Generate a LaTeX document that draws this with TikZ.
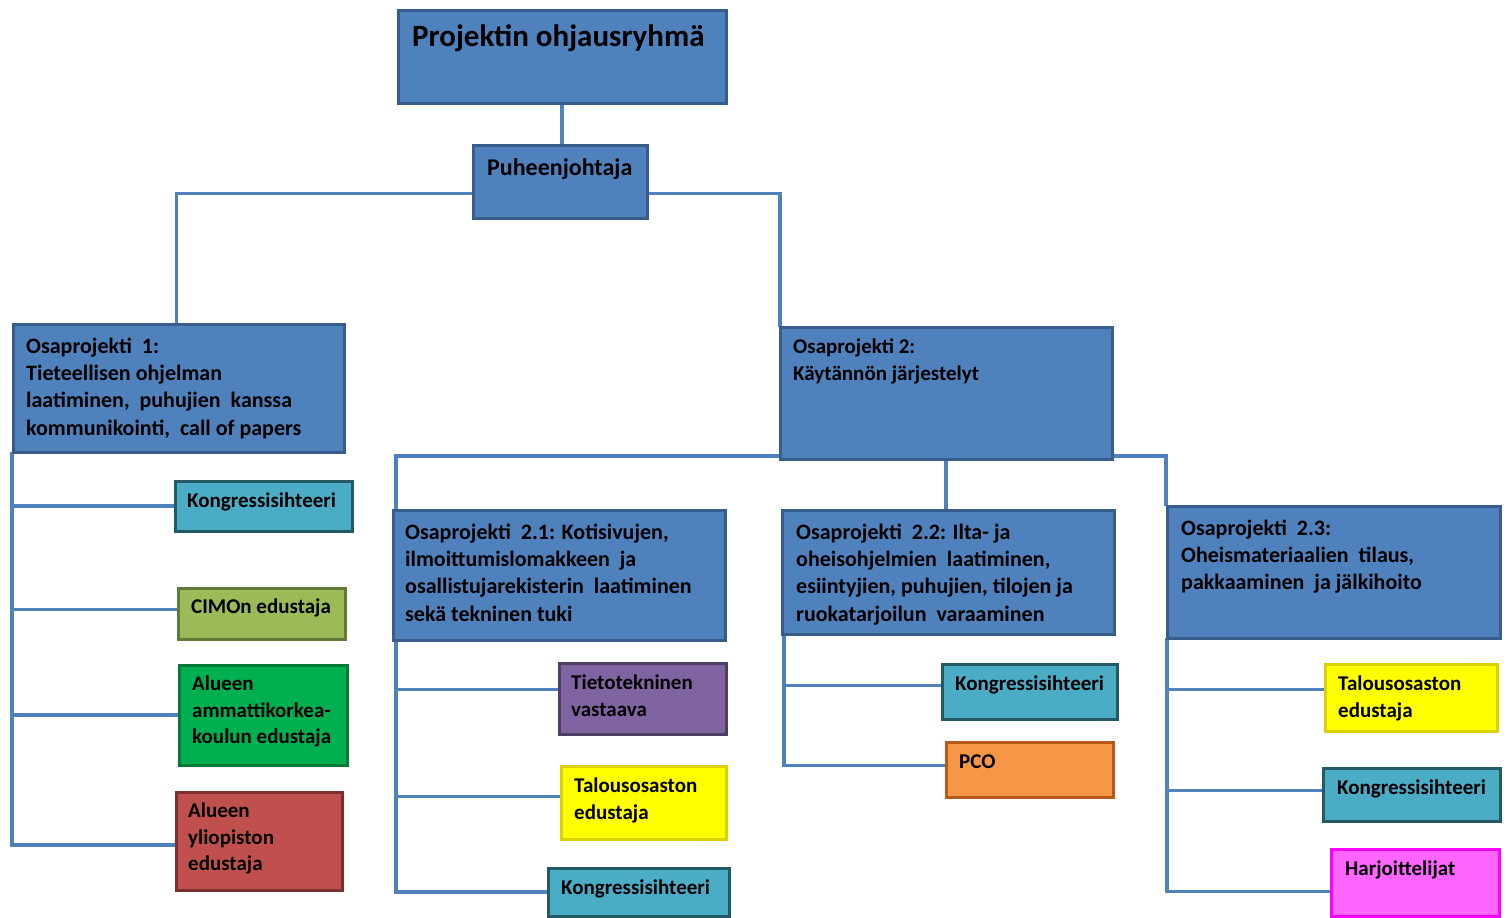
\documentclass[tikz,border=0pt]{standalone}
\usepackage{fontspec}
\setmainfont{Carlito}
\usetikzlibrary{positioning,backgrounds}

\definecolor{mainblue}{HTML}{4F81BD}
\definecolor{mainedge}{HTML}{385D8A}
\definecolor{tealfill}{HTML}{4BACC6}
\definecolor{tealedge}{HTML}{235A64}
\definecolor{olivefill}{HTML}{9BBB59}
\definecolor{oliveedge}{HTML}{637A36}
\definecolor{greenfill}{HTML}{00B050}
\definecolor{greenedge}{HTML}{007A37}
\definecolor{redfill}{HTML}{C0504D}
\definecolor{rededge}{HTML}{7F2F2D}
\definecolor{purplefill}{HTML}{8064A2}
\definecolor{purpleedge}{HTML}{4E3D64}
\definecolor{yellowfill}{HTML}{FFFF00}
\definecolor{yellowedge}{HTML}{DDD000}
\definecolor{orangefill}{HTML}{F79646}
\definecolor{orangeedge}{HTML}{B65A1A}
\definecolor{pinkfill}{HTML}{FF66FF}
\definecolor{pinkedge}{HTML}{FF00FF}

\begin{document}
\begin{tikzpicture}[x=1pt,y=-1pt,
    box/.style={rectangle,draw=mainedge,fill=mainblue,line width=3pt,
		anchor=north west,outer sep=0pt,inner sep=0pt},
    teal/.style={box,draw=tealedge,fill=tealfill},
    olive/.style={box,draw=oliveedge,fill=olivefill},
    green/.style={box,draw=greenedge,fill=greenfill},
    red/.style={box,draw=rededge,fill=redfill},
    purple/.style={box,draw=purpleedge,fill=purplefill},
    yellow/.style={box,draw=yellowedge,fill=yellowfill},
    orange/.style={box,draw=orangeedge,fill=orangefill},
    pink/.style={box,draw=pinkedge,fill=pinkfill},
% Text styles
    txt/.style={anchor=north west,inner sep=0pt,align=left,
		font=\fontsize{21}{26.5}\selectfont\bfseries},
    bigtxt/.style={txt,font=\fontsize{22}{27.3}\selectfont\bfseries},
    link/.style={draw=mainblue,line width=3.3pt}
    ]
\useasboundingbox (0,0) rectangle (1510,918);

\node [box,minimum width=328,minimum height=93] (group) at (398,10) {};
\node [box,minimum width=174,minimum height=73] (chair) at (473,145) {};
\node [box,minimum width=331,minimum height=128] (part1) at (13,324) {};
\node [box,minimum width=332,minimum height=132] (part2) at (780,327) {};
\node [box,minimum width=332,minimum height=130] (part21) at (393,510) {};
\node [box,minimum width=332,minimum height=124] (part22) at (782,510) {};
\node [box,minimum width=333,minimum height=132] (part23) at (1167,506) {};

\node [teal,minimum width=177,minimum height=50] (secr1) at (175,481) {};
\node [olive,minimum width=167,minimum height=51] (cimo) at (178,588) {};
\node [green,minimum width=168,minimum height=100] (amk) at (179,665) {};
\node [red,minimum width=166,minimum height=98] (univ) at (176,792) {};

\node [purple,minimum width=167,minimum height=71] (tech) at (559,663) {};
\node [yellow,minimum width=165,minimum height=73] (fin21) at (561,766) {};
\node [teal,minimum width=181,minimum height=48] (secr21) at (548,868) {};

\node [teal,minimum width=175,minimum height=55] (secr22) at (942,664) {};
\node [orange,minimum width=167,minimum height=55] (pco) at (946,742) {};

\node [yellow,minimum width=172,minimum height=67] (fin23) at (1325,664) {};
\node [teal,minimum width=177,minimum height=53] (secr23) at (1323,768) {};
\node [pink,minimum width=168,minimum height=67] (train) at (1331,849) {};

% texts
\node [txt,font=\fontsize{31}{36}\selectfont\bfseries] (group-t) at ([shift={(14,11)}]group.north west) {\strut Projektin ohjausryhmä};
\node [txt,font=\fontsize{24}{29}\selectfont\bfseries] (chair-t) at ([shift={(14,10)}]chair.north west) {\strut Puheenjohtaja};
\node [bigtxt] (part1-t) at ([shift={(13,10)}]part1.north west) {\strut Osaprojekti\ \ 1:\\Tieteellisen ohjelman\\laatiminen,\ \ puhujien\ \ kanssa\\kommunikointi,\ \ call of papers};
\node [txt] (part2-t) at ([shift={(13,8)}]part2.north west) {\strut Osaprojekti 2:\\Käytännön järjestelyt};
\node [bigtxt] (part21-t) at ([shift={(12,10)}]part21.north west) {\strut Osaprojekti\ \ 2.1: Kotisivujen,\\ilmoittumislomakkeen\ \ ja\\osallistujarekisterin\ \ laatiminen\\sekä tekninen tuki};
\node [bigtxt] (part22-t) at ([shift={(14,10)}]part22.north west) {\strut Osaprojekti\ \ 2.2: Ilta- ja\\oheisohjelmien\ \ laatiminen,\\esiintyjien,\ puhujien,\ tilojen ja\\ruokatarjoilun\ \ varaaminen};
\node [bigtxt] (part23-t) at ([shift={(14,10)}]part23.north west) {\strut Osaprojekti\ \ 2.3:\\Oheismateriaalien\ \ tilaus,\\pakkaaminen\ \ ja jälkihoito};

\node [txt] (secr1-t) at ([shift={(12,8)}]secr1.north west) {\strut Kongressisihteeri};
\node [txt] (cimo-t) at ([shift={(13,7)}]cimo.north west) {\strut CIMOn edustaja};
\node [txt] (amk-t) at ([shift={(13,7)}]amk.north west) {\strut Alueen\\ammattikorkea-\\koulun edustaja};
\node [txt] (univ-t) at ([shift={(12,7)}]univ.north west) {\strut Alueen\\yliopiston\\edustaja};
\node [txt] (tech-t) at ([shift={(12,8)}]tech.north west) {\strut Tietotekninen\\vastaava};
\node [txt] (fin21-t) at ([shift={(13,8)}]fin21.north west) {\strut Talousosaston\\edustaja};
\node [txt] (secr21-t) at ([shift={(13,8)}]secr21.north west) {\strut Kongressisihteeri};
\node [txt] (secr22-t) at ([shift={(13,8)}]secr22.north west) {\strut Kongressisihteeri};
\node [txt] (pco-t) at ([shift={(13,8)}]pco.north west) {\strut PCO};
\node [txt] (fin23-t) at ([shift={(13,8)}]fin23.north west) {\strut Talousosaston\\edustaja};
\node [txt] (secr23-t) at ([shift={(14,8)}]secr23.north west) {\strut Kongressisihteeri};
\node [txt] (train-t) at ([shift={(14,8)}]train.north west) {\strut Harjoittelijat};

\begin{pgfonlayer}{background}
\draw [link] (group.south) -- (group.south |- chair.north);
\draw [link] ([yshift=-12pt]chair.west) -| ([xshift=-2pt]part1.north);
\draw [link] ([yshift=-12pt]chair.east) -| (part2.north west);
\draw [link] ([yshift=3pt]part2.south west) -| ([xshift=3pt]part21.north west);
\draw [link] ([yshift=3pt]part2.south east) -| ([xshift=-1pt]part23.north west);
\draw [link] (part2.south) -- (part2.south |- part22.north);

\draw [link] ([xshift=-1pt]part1.south west) |- ([yshift=-4pt]univ.west);
\draw [link] ([xshift=-1pt]part1.south west |- secr1.west) -- (secr1.west);
\draw [link] ([xshift=-1pt,yshift=4pt]part1.south west |- cimo.west) -- ([yshift=4pt]cimo.west);
\draw [link] ([xshift=-1pt]part1.south west |- amk.west) -- (amk.west);

\draw [link] ([xshift=3pt]part21.south west) |- (secr21.west);
\draw [link] ([xshift=3pt,yshift=9pt]part21.south west |- tech.west) -- ([yshift=9pt]tech.west);
\draw [link] ([xshift=3pt,yshift=6pt]part21.south west |- fin21.west) -- ([yshift=6pt]fin21.west);

\draw [link] ([xshift=2pt]part22.south west) |- ([yshift=4pt]pco.west);
\draw [link] ([xshift=2pt,yshift=6pt]part22.south west |- secr22.west) -- ([yshift=6pt]secr22.west);

\draw [link] (part23.south west) |- ([yshift=-9pt]train.west);
\draw [link] ([yshift=8pt]part23.south west |- fin23.west) -- ([yshift=8pt]fin23.west);
\draw [link] ([yshift=4pt]part23.south west |- secr23.west) -- ([yshift=4pt]secr23.west);
\end{pgfonlayer}
\end{tikzpicture}
\end{document}
